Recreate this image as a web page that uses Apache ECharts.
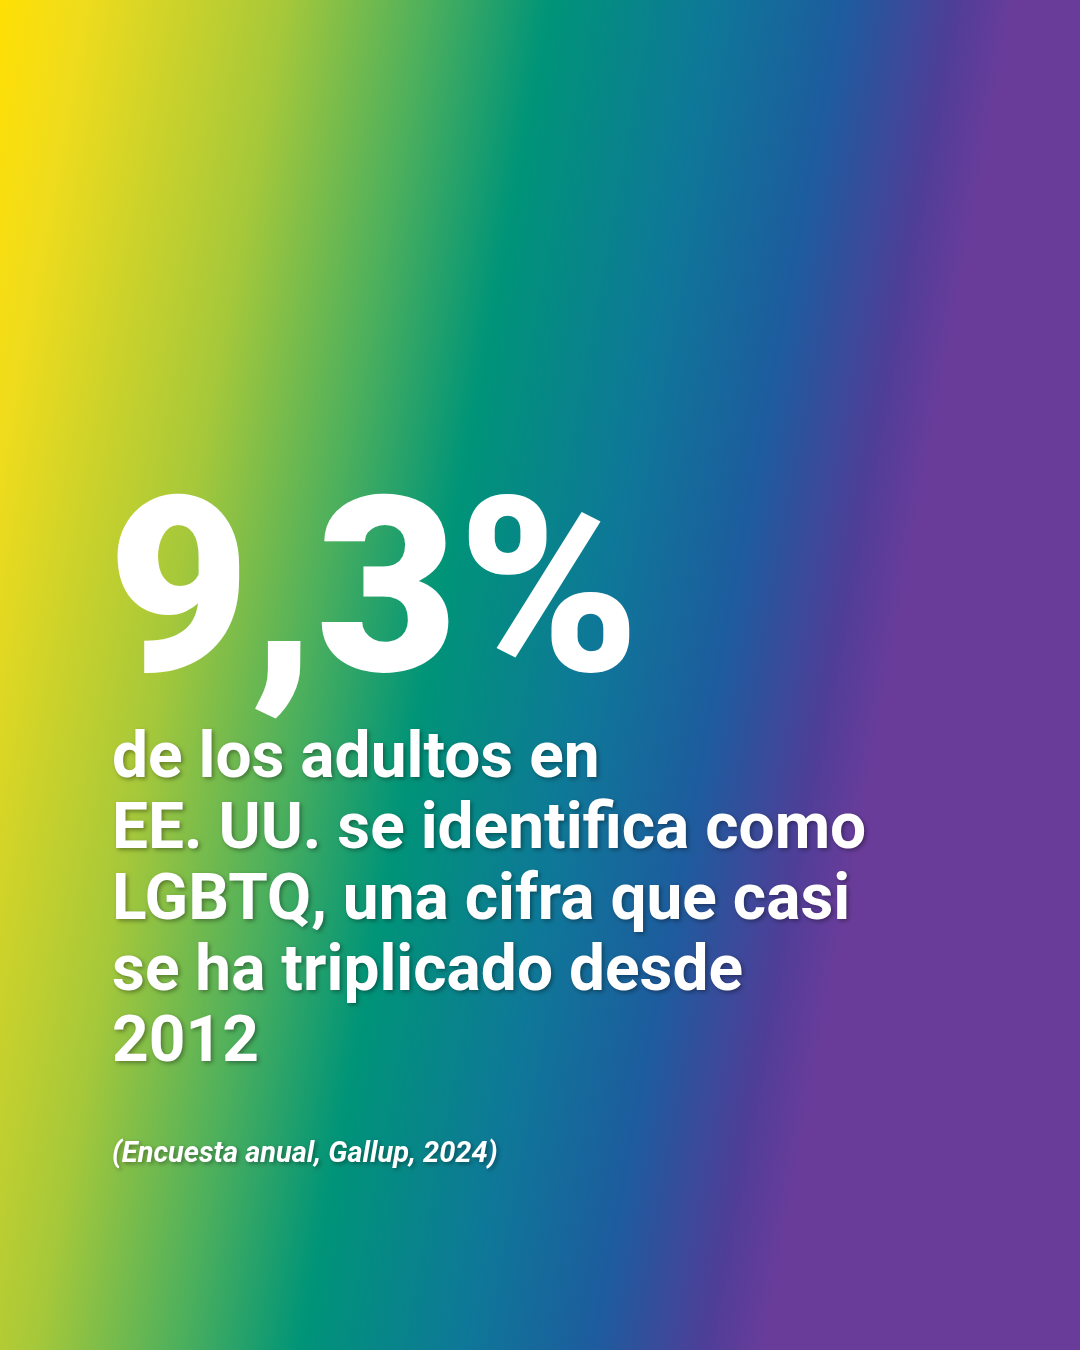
<!DOCTYPE html>
<html><head><meta charset="utf-8">
<script src="https://cdn.jsdelivr.net/npm/echarts@6/dist/echarts.min.js"></script>
<style>html,body{margin:0;padding:0}#c{width:1080px;height:1350px}</style>
</head><body><div id="c"></div>
<script>
const headlineValue = [9.3];
const headlineUnit = ['%'];
const bodyLines = ['de los adultos en','EE. UU. se identifica como','LGBTQ, una cifra que casi','se ha triplicado desde','2012'];
const sourceLines = ['(Encuesta anual, Gallup, 2024)'];

const chart = echarts.init(document.getElementById('c'));
const bg = new echarts.graphic.LinearGradient(0, 0, 983, 182, [
  {offset:0, color:'#ffe004'},
  {offset:0.08, color:'#f0dc1c'},
  {offset:0.28, color:'#a6c83a'},
  {offset:0.42, color:'#4eb05c'},
  {offset:0.54, color:'#009478'},
  {offset:0.7, color:'#0e7898'},
  {offset:0.83, color:'#1d5c9e'},
  {offset:0.94, color:'#4f3e98'},
  {offset:1, color:'#6a3c9a'}
], true);
const shadow = {textShadowColor:'rgba(0,0,0,0.35)', textShadowBlur:4, textShadowOffsetX:2, textShadowOffsetY:2};
const elements = [{type:'rect', shape:{x:0,y:0,width:1080,height:1350}, style:{fill:bg}, z:0}];
elements.push({type:'text', left:108, top:487, z:2, style:{
  text: headlineValue[0].toFixed(1).replace('.', ',') + headlineUnit[0],
  font:'900 245px Roboto', fill:'#ffffff'}});
bodyLines.forEach((t,i)=>elements.push({type:'text', left:112, top:729+i*71, z:2,
  style:Object.assign({text:t, font:'bold 64px Roboto', fill:'#ffffff'}, shadow)}));
sourceLines.forEach((t,i)=>elements.push({type:'text', left:112, top:1140+i*36, z:2,
  style:Object.assign({text:t, font:'italic bold 29px Roboto', fill:'#ffffff'}, shadow)}));
chart.setOption({animation:false, graphic:{elements}});
</script></body></html>
